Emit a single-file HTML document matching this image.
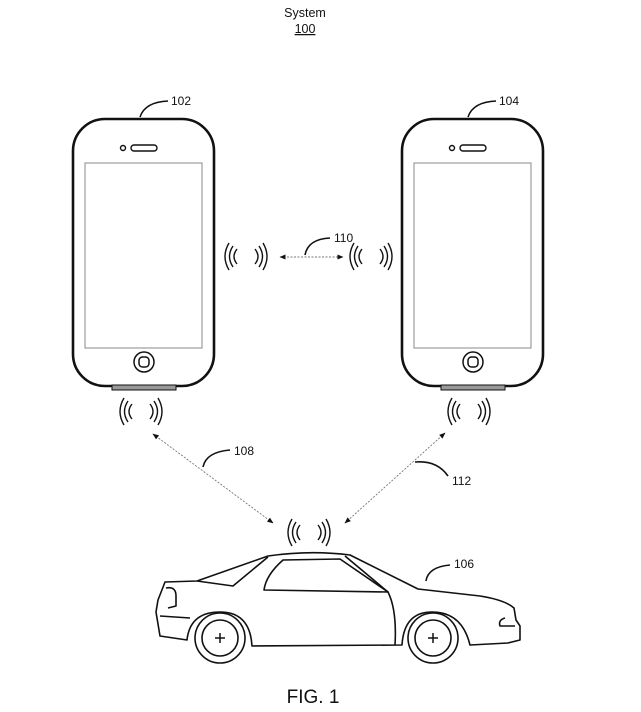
<!DOCTYPE html>
<html><head><meta charset="utf-8"><style>
html,body{margin:0;padding:0;background:#fff;}
svg{display:block;}
text{font-family:"Liberation Sans",Arial,sans-serif;fill:#111;}
</style></head><body>
<svg width="641" height="712" viewBox="0 0 641 712" xmlns="http://www.w3.org/2000/svg">
<defs>
<marker id="ah" viewBox="0 0 10 10" refX="9" refY="5" markerWidth="7" markerHeight="7" orient="auto-start-reverse"><path d="M0,1 L10,5 L0,9 z" fill="#111"/></marker>
<g id="sig" fill="none" stroke="#111" stroke-width="1.4">
<path d="M5,0 Q-3,13.5 5,27"/><path d="M9,3 Q2,13.5 9,24"/><path d="M13,6 Q7,13.5 13,21"/>
<path d="M31,6 Q37,13.5 31,21"/><path d="M35,3 Q42,13.5 35,24"/><path d="M39,0 Q47,13.5 39,27"/>
</g>
<g id="phone">
<rect x="0" y="0" width="141" height="267" rx="32" fill="#fff" stroke="#111" stroke-width="2.6"/>
<rect x="12" y="44" width="117" height="185" fill="none" stroke="#888" stroke-width="1"/>
<circle cx="50" cy="29" r="2.5" fill="none" stroke="#111" stroke-width="1.4"/>
<rect x="58" y="26" width="26" height="6" rx="3" fill="none" stroke="#111" stroke-width="1.4"/>
<circle cx="71" cy="243" r="10" fill="none" stroke="#111" stroke-width="1.5"/>
<rect x="66" y="238" width="10" height="10" rx="3.5" fill="none" stroke="#111" stroke-width="1.5"/>
<rect x="39" y="266" width="64" height="5" fill="#999" stroke="#111" stroke-width="1"/>
</g>
</defs>

<text x="305" y="17" font-size="12.5" text-anchor="middle">System</text>
<text x="305" y="33" font-size="12.5" text-anchor="middle" text-decoration="underline">100</text>

<use href="#phone" x="73" y="119"/>
<use href="#phone" x="402" y="119"/>

<path d="M140,117 Q145,102 168,101" fill="none" stroke="#111" stroke-width="1.6"/>
<text x="171" y="105" font-size="12">102</text>
<path d="M468,117 Q473,102 496,101" fill="none" stroke="#111" stroke-width="1.6"/>
<text x="499" y="105" font-size="12">104</text>

<use href="#sig" x="224" y="243"/>
<use href="#sig" x="349" y="243"/>
<use href="#sig" x="119" y="398"/>
<use href="#sig" x="447" y="398"/>
<use href="#sig" x="287" y="519"/>

<line x1="280" y1="257" x2="343" y2="257" stroke="#777" stroke-width="0.9" stroke-dasharray="2,1.5" marker-start="url(#ah)" marker-end="url(#ah)"/>
<path d="M305,255 Q308,239 330,238" fill="none" stroke="#111" stroke-width="1.6"/>
<text x="334" y="242" font-size="12">110</text>

<line x1="153" y1="434" x2="273" y2="523" stroke="#777" stroke-width="0.9" stroke-dasharray="2,1.5" marker-start="url(#ah)" marker-end="url(#ah)"/>
<path d="M203,467 Q206,452 230,450" fill="none" stroke="#111" stroke-width="1.6"/>
<text x="234" y="455" font-size="12">108</text>

<line x1="445" y1="433" x2="345" y2="523" stroke="#777" stroke-width="0.9" stroke-dasharray="2,1.5" marker-start="url(#ah)" marker-end="url(#ah)"/>
<path d="M415,462 Q437,460 448,476" fill="none" stroke="#111" stroke-width="1.6"/>
<text x="452" y="485" font-size="12">112</text>

<path d="M426,581 Q428,567 450,565" fill="none" stroke="#111" stroke-width="1.6"/>
<text x="454" y="568" font-size="12">106</text>

<g fill="none" stroke="#111" stroke-width="1.6" stroke-linejoin="round">
<path d="M165,582 L197,581 L268,556 Q310,550 350,555 L418,589 L480,596 Q505,600 514,608 L516,620 L520,626 L520,640 L508,643 L470,645 Q462,612 432,612 Q404,612 402,645 L252,646 Q250,612 220,612 Q190,612 187,640 L160,636 L156,612 L158,600 L165,582 Z"/>
<path d="M197,581 L233,586 L268,557"/>
<path d="M283,560 L340,559 L388,592 L264,590 Q266,575 283,560 Z"/>
<path d="M345,556 L388,592 Q397,610 395,645"/>
<path d="M166,588 Q176,586 176,596 L176,606 L168,608"/>
<path d="M160,616 L190,618"/>
<path d="M505,618 Q498,620 500,626 L515,626"/>
<circle cx="220" cy="638" r="25"/>
<circle cx="220" cy="638" r="18"/>
<circle cx="433" cy="638" r="25"/>
<circle cx="433" cy="638" r="18"/>
</g>
<g stroke="#111" stroke-width="1.5">
<line x1="215" y1="638" x2="225" y2="638"/><line x1="220" y1="633" x2="220" y2="643"/>
<line x1="428" y1="638" x2="438" y2="638"/><line x1="433" y1="633" x2="433" y2="643"/>
</g>

<text x="313" y="703" font-size="19" text-anchor="middle">FIG. 1</text>
</svg>
</body></html>
